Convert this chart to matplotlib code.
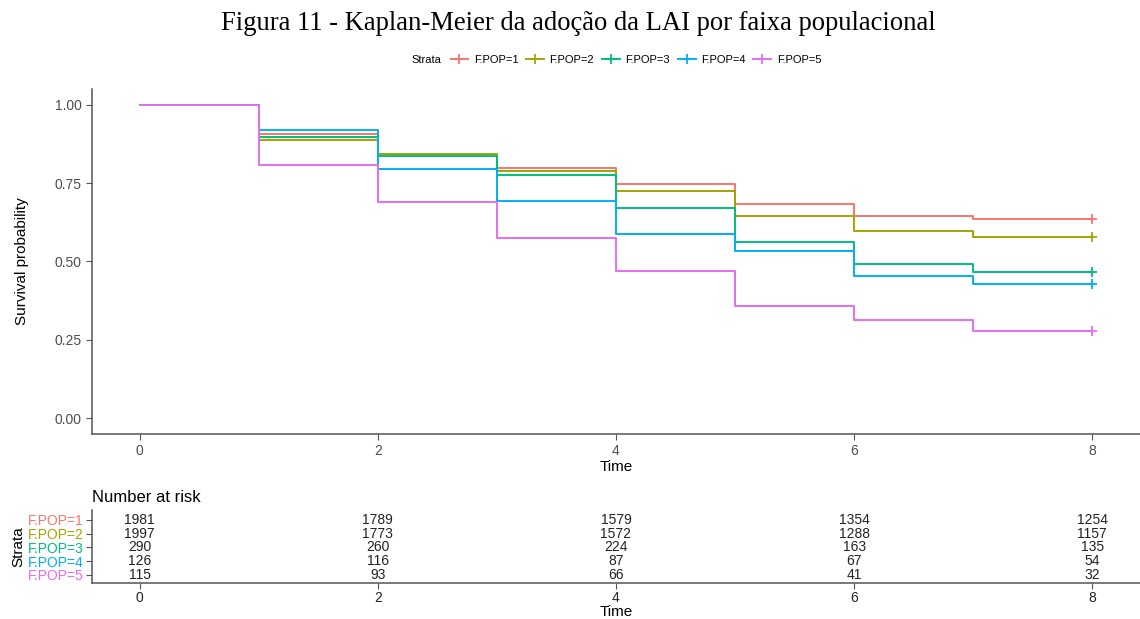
import matplotlib.pyplot as plt
from matplotlib.lines import Line2D
import numpy as np

# Kaplan-Meier estimates, value held on [t, t+1)
times = [0, 1, 2, 3, 4, 5, 6, 7, 8]
strata = ['F.POP=1', 'F.POP=2', 'F.POP=3', 'F.POP=4', 'F.POP=5']
surv_pop1 = [1.0, 0.905, 0.843, 0.797, 0.747, 0.683, 0.646, 0.635]
surv_pop2 = [1.0, 0.889, 0.844, 0.787, 0.725, 0.646, 0.597, 0.579]
surv_pop3 = [1.0, 0.896, 0.836, 0.775, 0.672, 0.563, 0.493, 0.466]
surv_pop4 = [1.0, 0.920, 0.795, 0.692, 0.587, 0.534, 0.453, 0.429]
surv_pop5 = [1.0, 0.809, 0.689, 0.574, 0.469, 0.357, 0.315, 0.278]

# number at risk table
risk_times = [0, 2, 4, 6, 8]
risk_pop1 = [1981, 1789, 1579, 1354, 1254]
risk_pop2 = [1997, 1773, 1572, 1288, 1157]
risk_pop3 = [290, 260, 224, 163, 135]
risk_pop4 = [126, 116, 87, 67, 54]
risk_pop5 = [115, 93, 66, 41, 32]

colors = ['#F8766D', '#A3A500', '#00BF7D', '#00B0F6', '#E76BF3']
surv = [surv_pop1, surv_pop2, surv_pop3, surv_pop4, surv_pop5]
risk = [risk_pop1, risk_pop2, risk_pop3, risk_pop4, risk_pop5]

plt.rcParams['font.family'] = ['Liberation Sans', 'DejaVu Sans']
axis_col = '#555555'
tick_col = '#4D4D4D'

fig = plt.figure(figsize=(11.4, 6.19), dpi=100)

fig.text(0.507, 0.962, 'Figura 11 - Kaplan-Meier da adoção da LAI por faixa populacional',
         ha='center', va='center', fontsize=19.2, family='Liberation Serif')

# main KM plot
ax = fig.add_axes([0.0807, 0.2989, 0.9193, 0.5573])
for s, c in zip(surv, colors):
    y = s + [s[-1]]
    ax.step(times, y, where='post', color=c, lw=1.4)
    ax.plot(times[-1], s[-1], marker='+', color=c, ms=7, mew=1.3)

ax.set_xlim(-0.4, 8.4)
ax.set_ylim(-0.05, 1.05)
ax.set_xticks([0, 2, 4, 6, 8])
ax.set_yticks([0, 0.25, 0.5, 0.75, 1.0])
ax.set_yticklabels(['0.00', '0.25', '0.50', '0.75', '1.00'])
ax.set_xlabel('Time', fontsize=11, labelpad=1)
ax.set_ylabel('Survival probability', fontsize=11, labelpad=18)
for side in ['top', 'right']:
    ax.spines[side].set_visible(False)
for side in ['left', 'bottom']:
    ax.spines[side].set_color(axis_col)
    ax.spines[side].set_linewidth(1.1)
ax.tick_params(colors=axis_col, labelcolor=tick_col, labelsize=10, length=4)

# legend
fig.text(411 / 1140, 1 - 60 / 619, 'Strata', fontsize=8, va='center', ha='left')
handles = [Line2D([0], [0], color=c, lw=1.4, marker='+', ms=7, mew=1.3) for c in colors]
fig.legend(handles, strata, loc='center left', bbox_to_anchor=(445 / 1140, 1 - 60 / 619),
           ncol=5, frameon=False, fontsize=8, handlelength=1.6, handletextpad=0.5,
           columnspacing=0.7, borderpad=0)

# risk table
tab = fig.add_axes([0.0807, 0.0582, 0.9193, 0.1178])
rows = [5, 4, 3, 2, 1]
for r, vals in zip(rows, risk):
    for t, v in zip(risk_times, vals):
        tab.text(t, r, str(v), ha='center', va='center', fontsize=10, color='#222222')
tab.set_xlim(-0.4, 8.4)
tab.set_ylim(0.42, 5.72)
tab.set_xticks([0, 2, 4, 6, 8])
tab.set_yticks(rows)
tab.set_yticklabels(strata)
tab.set_xlabel('Time', fontsize=11, labelpad=0)
tab.set_ylabel('Strata', fontsize=11, labelpad=2)
tab.set_title('Number at risk', loc='left', fontsize=12, pad=6)
for side in ['top', 'right']:
    tab.spines[side].set_visible(False)
for side in ['left', 'bottom']:
    tab.spines[side].set_color(axis_col)
    tab.spines[side].set_linewidth(1.1)
tab.tick_params(colors=axis_col, labelsize=10, length=4)
tab.tick_params(axis='x', labelcolor='#222222', pad=2)
tab.tick_params(axis='y', pad=2)
for lbl, c in zip(tab.get_yticklabels(), colors):
    lbl.set_color(c)

fig.savefig('out.png', dpi=100)
